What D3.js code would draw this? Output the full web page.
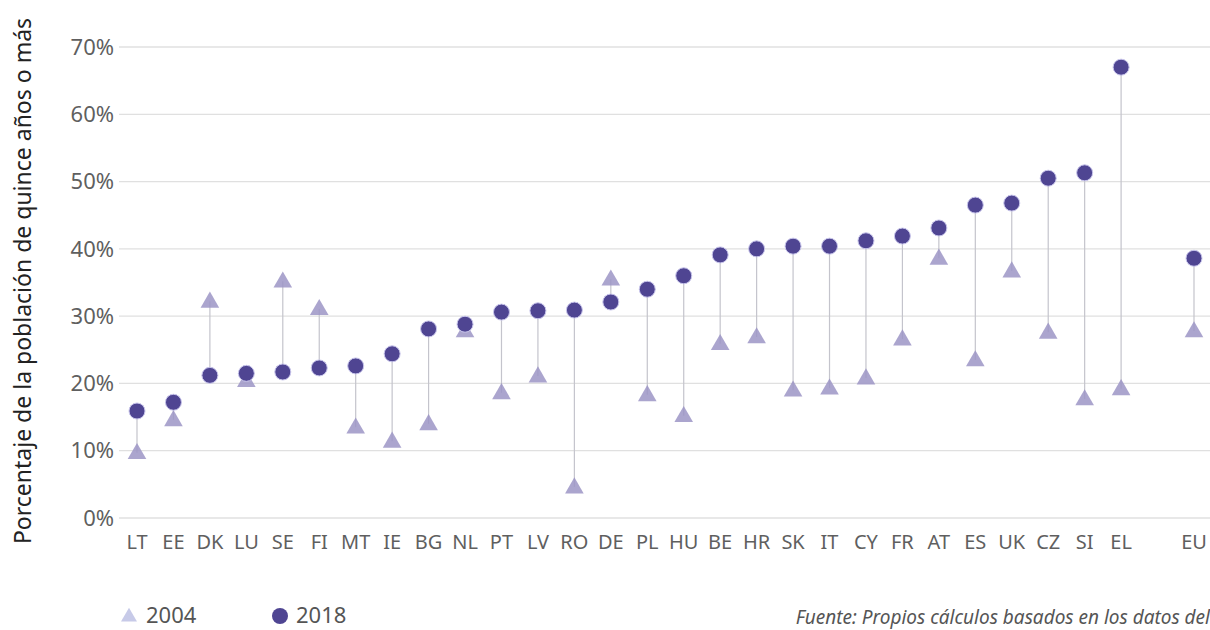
<!DOCTYPE html>
<html>
<head>
<meta charset="utf-8">
<script src="https://cdn.jsdelivr.net/npm/d3@7"></script>
<style>
  body { margin: 0; background: #fff; }
  text { font-family: "Noto Sans", "DejaVu Sans", sans-serif; }
</style>
</head>
<body>
<svg></svg>
<script>
// data
var countries = ["LT","EE","DK","LU","SE","FI","MT","IE","BG","NL","PT","LV","RO","DE","PL","HU","BE","HR","SK","IT","CY","FR","AT","ES","UK","CZ","SI","EL","","EU"];
var val2004 = [9.7,14.6,32.2,20.4,35.2,31.1,13.5,11.4,14.0,27.8,18.6,21.1,4.6,35.5,18.3,15.2,25.9,26.9,19.0,19.3,20.8,26.6,38.6,23.5,36.7,27.6,17.7,19.2,null,27.8];
var val2018 = [15.9,17.2,21.2,21.5,21.7,22.3,22.6,24.4,28.1,28.8,30.6,30.8,30.9,32.1,34.0,36.0,39.1,40.0,40.4,40.4,41.2,41.9,43.1,46.5,46.8,50.5,51.3,67.0,null,38.6];
var yTicks = [0,10,20,30,40,50,60,70];

var svg = d3.select("svg")
            .attr("width", 1210)
            .attr("height", 630);

var x = d3.scalePoint().domain(d3.range(countries.length)).range([137, 1194]);
var y = d3.scaleLinear().domain([0, 70]).range([518, 47]);

//gridlines + y labels
var grid = svg.append("g");
grid.selectAll("line")
    .data(yTicks)
    .enter().append("line")
    .attr("x1", 119).attr("x2", 1210)
    .attr("y1", function(d) { return y(d); })
    .attr("y2", function(d) { return y(d); })
    .style("stroke", "#e0e0e0")
    .style("stroke-width", 1.3);

grid.selectAll("text")
    .data(yTicks)
    .enter().append("text")
    .attr("x", 114)
    .attr("y", function(d) { return y(d); })
    .attr("dy", "0.35em")
    .attr("text-anchor", "end")
    .style("font-size", "22px")
    .style("fill", "#5f5f5f")
    .text(function(d) { return d + "%"; });

//x labels
svg.append("g").selectAll("text")
    .data(countries)
    .enter().append("text")
    .attr("x", function(d, i) { return x(i); })
    .attr("y", 549)
    .attr("text-anchor", "middle")
    .style("font-size", "20px")
    .style("fill", "#5f5f5f")
    .text(function(d) { return d; });

//y title
svg.append("text")
    .attr("transform", "translate(31,281) rotate(-90)")
    .attr("text-anchor", "middle")
    .style("font-size", "23px")
    .style("fill", "#222")
    .text("Porcentaje de la población de quince años o más");

var pts = countries.map(function(c, i) {
    return {c: c, i: i, a: val2004[i], b: val2018[i]};
}).filter(function(d) { return d.a !== null; });

//connecting lines
svg.append("g").selectAll("line")
    .data(pts)
    .enter().append("line")
    .attr("x1", function(d) { return x(d.i); })
    .attr("x2", function(d) { return x(d.i); })
    .attr("y1", function(d) { return y(d.a); })
    .attr("y2", function(d) { return y(d.b); })
    .style("stroke", "#c4c4cc")
    .style("stroke-width", 1.2);

var tri = d3.symbol().type(d3.symbolTriangle).size(150);

svg.append("g").selectAll("path")
    .data(pts)
    .enter().append("path")
    .attr("d", tri)
    .attr("transform", function(d) { return "translate(" + x(d.i) + "," + (y(d.a) + 1) + ")"; })
    .style("fill", "#9c95c5")
    .style("opacity", 0.85);

svg.append("g").selectAll("circle")
    .data(pts)
    .enter().append("circle")
    .attr("cx", function(d) { return x(d.i); })
    .attr("cy", function(d) { return y(d.b); })
    .attr("r", 8)
    .style("fill", "#4f4592")
    .style("stroke", "#c9c6ec")
    .style("stroke-width", 1);

//legend
var leg = svg.append("g");
leg.append("path")
    .attr("d", d3.symbol().type(d3.symbolTriangle).size(110))
    .attr("transform", "translate(129,617)")
    .style("fill", "#c7cae8");
leg.append("text")
    .attr("x", 146).attr("y", 623)
    .style("font-size", "22px")
    .style("fill", "#555")
    .text("2004");
leg.append("circle")
    .attr("cx", 280).attr("cy", 616).attr("r", 8)
    .style("fill", "#4f4592");
leg.append("text")
    .attr("x", 296).attr("y", 623)
    .style("font-size", "22px")
    .style("fill", "#555")
    .text("2018");

svg.append("text")
    .attr("x", 1210).attr("y", 624)
    .attr("text-anchor", "end")
    .style("font-size", "19px")
    .style("font-style", "italic")
    .style("fill", "#555")
    .text("Fuente: Propios cálculos basados en los datos del");
</script>
</body>
</html>
